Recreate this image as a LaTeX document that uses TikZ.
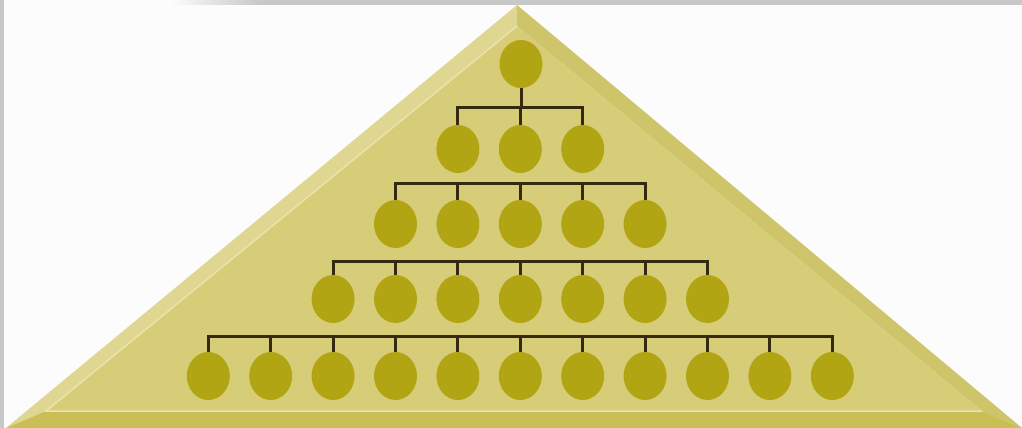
\documentclass[tikz,border=0pt]{standalone}
\usetikzlibrary{shapes.geometric}
\definecolor{bgc}{RGB}{252,252,252}
\definecolor{framec}{RGB}{200,200,200}
\definecolor{facec}{RGB}{215,205,120}
\definecolor{leftbev}{RGB}{223,215,145}
\definecolor{rightbev}{RGB}{206,196,106}
\definecolor{botbev}{RGB}{202,190,86}
\definecolor{hilite}{RGB}{234,227,172}
\definecolor{ballc}{RGB}{178,165,20}
\definecolor{linec}{RGB}{52,42,16}
\begin{document}
\begin{tikzpicture}[x=1pt,y=-1pt,
  ball/.style={ellipse,fill=ballc,draw=none,minimum width=43pt,minimum height=48pt,inner sep=0pt},
  conn/.style={draw=linec,line width=3pt,line join=miter}]
\useasboundingbox (0,0) rectangle (1022,428);
% background
\fill[bgc] (0,0) rectangle (1022,428);
\shade[left color=bgc,right color=framec] (170,0) rectangle (260,5);
\fill[framec] (260,0) rectangle (1022,5);
\fill[framec] (0,0) rectangle (4,428);
% pyramid
\coordinate (A) at (517,5);
\coordinate (L) at (6,428);
\coordinate (R) at (1022,428);
\coordinate (a) at (517,26);
\coordinate (l) at (46,411);
\coordinate (r) at (982,411);
\fill[leftbev] (A) -- (L) -- (l) -- (a) -- cycle;
\fill[rightbev] (A) -- (a) -- (r) -- (R) -- cycle;
\fill[botbev] (L) -- (R) -- (r) -- (l) -- cycle;
\fill[facec] (a) -- (l) -- (r) -- cycle;
\draw[hilite,line width=1.5pt] (a) -- (l) -- (r);
% nodes
\node[ball] (r1) at (521,64) {};
\foreach \i in {1,...,3} \node[ball] (r2-\i) at ({520.3+(\i-2)*62.4},149) {};
\foreach \i in {1,...,5} \node[ball] (r3-\i) at ({520.3+(\i-3)*62.4},224) {};
\foreach \i in {1,...,7} \node[ball] (r4-\i) at ({520.3+(\i-4)*62.4},299) {};
\foreach \i in {1,...,11} \node[ball] (r5-\i) at ({520.3+(\i-6)*62.4},376) {};
% buses
\coordinate (b2) at (0,107);
\coordinate (b3) at (0,183);
\coordinate (b4) at (0,261);
\coordinate (b5) at (0,336);
\draw[conn] (r1.south) -- (r1.south |- b2);
\draw[conn] (r2-1.north) |- (r2-3.north |- b2) -- (r2-3.north);
\draw[conn] (r2-2.north) -- (r2-2.north |- b2);
\draw[conn] (r3-1.north) |- (r3-5.north |- b3) -- (r3-5.north);
\foreach \i in {2,...,4} \draw[conn] (r3-\i.north) -- (r3-\i.north |- b3);
\draw[conn] (r4-1.north) |- (r4-7.north |- b4) -- (r4-7.north);
\foreach \i in {2,...,6} \draw[conn] (r4-\i.north) -- (r4-\i.north |- b4);
\draw[conn] (r5-1.north) |- (r5-11.north |- b5) -- (r5-11.north);
\foreach \i in {2,...,10} \draw[conn] (r5-\i.north) -- (r5-\i.north |- b5);
\end{tikzpicture}
\end{document}
